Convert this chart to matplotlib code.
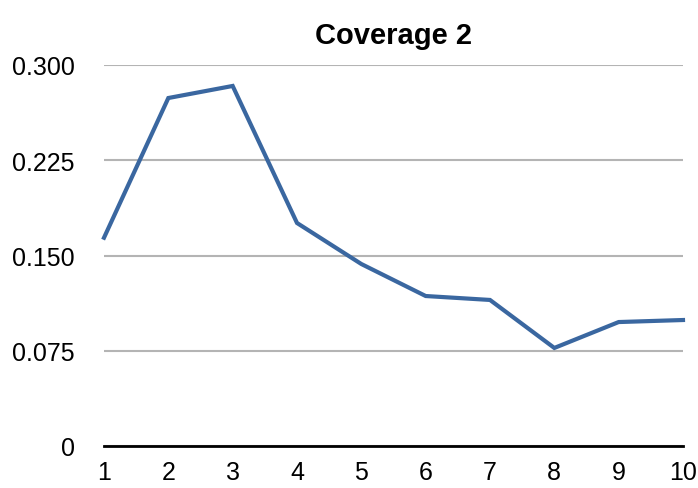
import matplotlib.pyplot as plt

plt.rcParams['font.family'] = ['Liberation Sans', 'DejaVu Sans']

#%% data
x = [1, 2, 3, 4, 5, 6, 7, 8, 9, 10]
coverage = [0.164, 0.274, 0.2835, 0.1756, 0.1433, 0.1181, 0.115, 0.0772, 0.0976, 0.0992]
yticks = [0, 0.075, 0.150, 0.225, 0.300]
ylabels = ["0", "0.075", "0.150", "0.225", "0.300"]

#%% plot
fig = plt.figure(figsize=(6.98, 4.89), dpi=100)
ax = fig.add_axes([104/698, 1-447/489, (683-104)/698, (447-66)/489])

ax.plot(x, coverage, color='#3a67a0', linewidth=3, solid_joinstyle='miter', clip_on=False, zorder=3)

ax.set_xlim(1, 10)
ax.set_ylim(0, 0.3)
ax.set_xticks(x)
ax.set_xticklabels([str(v) for v in x])
ax.set_yticks(yticks)
ax.set_yticklabels(ylabels)
ax.grid(axis='y', color='#b4b4b4', linewidth=1.5)
ax.set_axisbelow(True)

for s in ['top', 'right', 'left']:
    ax.spines[s].set_visible(False)
ax.spines['bottom'].set_linewidth(2)
ax.spines['bottom'].set_zorder(4)
ax.tick_params(length=0, labelsize=18)
ax.tick_params(axis='y', pad=21)
ax.tick_params(axis='x', pad=10)

ax.set_title("Coverage 2", fontsize=21, fontweight='bold', pad=16)

fig.savefig("out.png", dpi=100)
